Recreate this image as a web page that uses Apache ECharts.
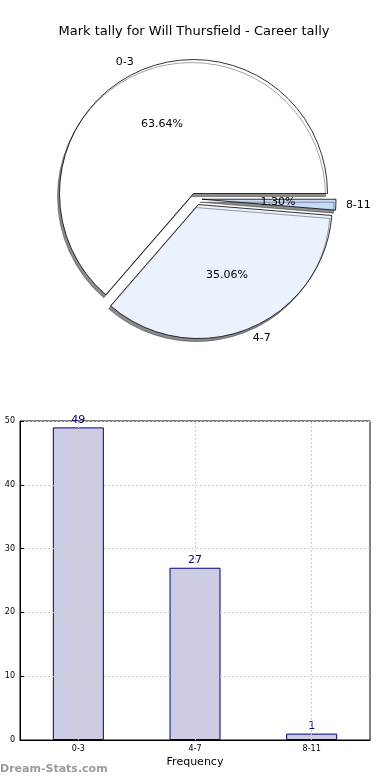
<!DOCTYPE html>
<html><head><meta charset="utf-8">
<script src="https://cdn.jsdelivr.net/npm/echarts@6/dist/echarts.min.js"></script>
<style>html,body{margin:0;padding:0;background:#fff}#c{width:390px;height:780px}</style>
</head><body><div id="c"></div>
<script>
const titleText = 'Mark tally for Will Thursfield - Career tally';
const categories = ['0-3', '4-7', '8-11'];
const tallies = [49, 27, 1];
const sliceColors = ['#ffffff', '#ebf1fd', '#c6d9f9'];
const yTicks = [0, 10, 20, 30, 40, 50];
const xName = 'Frequency';
const watermark = 'Dream-Stats.com';

const F = 'DejaVu Sans, sans-serif';
const R = 134;
const C = [196, 199];
const total = tallies.reduce((a, b) => a + b, 0);

const pieData = categories.map((c, i) => ({
  name: c, value: tallies[i], selected: true,
  itemStyle: { color: sliceColors[i] }
}));

const chart = echarts.init(document.getElementById('c'), null, { renderer: 'canvas' });
chart.setOption({
  animation: false,
  backgroundColor: '#fff',
  title: {
    text: titleText, left: 189, top: 20, textAlign: 'center',
    textStyle: { fontFamily: F, fontSize: 13, fontWeight: 'normal', color: '#000' }
  },
  graphic: [{
    type: 'text', left: 0, top: 764,
    style: { text: watermark, fill: '#9a9a9a', font: 'bold 11px ' + F }
  }],
  grid: { left: 20, right: 20, top: 421, bottom: 40, show: true, borderColor: '#000', borderWidth: 1, backgroundColor: 'transparent' },
  xAxis: {
    type: 'category', data: categories, z: 3,
    name: xName, nameLocation: 'middle', nameGap: 17,
    nameTextStyle: { fontFamily: F, fontSize: 11, color: '#000' },
    axisLine: { lineStyle: { color: '#000', width: 1 } },
    axisTick: { show: false },
    axisLabel: { fontFamily: F, fontSize: 8, color: '#000', margin: 5 },
    splitLine: { show: false }
  },
  yAxis: {
    type: 'value', min: yTicks[0], max: yTicks[yTicks.length - 1], interval: yTicks[1] - yTicks[0], z: 3,
    axisLine: { show: true, lineStyle: { color: '#000', width: 1 } },
    axisTick: { show: true, inside: true, length: 4, lineStyle: { color: '#000' } },
    axisLabel: { fontFamily: F, fontSize: 8, color: '#000', margin: 5 },
    splitLine: { show: true, lineStyle: { color: '#cccccc', type: [2, 2], width: 1 } }
  },
  series: [
    {
      type: 'pie', center: C, radius: R, clockwise: false, startAngle: 0,
      selectedMode: 'multiple', selectedOffset: 6, avoidLabelOverlap: false,
      data: pieData,
      itemStyle: { borderColor: '#000', borderWidth: 0.8, shadowColor: 'rgba(0,0,0,0.45)', shadowOffsetX: -2, shadowOffsetY: 3, shadowBlur: 0 },
      label: { show: true, position: 'outside', fontFamily: F, fontSize: 11, color: '#000', distanceToLabelLine: 0 },
      labelLine: { show: false, length: 10, length2: 0 },
      emphasis: { disabled: true }, silent: true
    },
    {
      type: 'pie', center: C, radius: [R * 0.47, R * 0.62], clockwise: false, startAngle: 0,
      selectedMode: 'multiple', selectedOffset: 6, avoidLabelOverlap: false,
      data: categories.map((c, i) => ({ name: c, value: tallies[i], selected: true })),
      itemStyle: { color: 'rgba(0,0,0,0)', borderWidth: 0 },
      label: { show: true, position: 'inside', fontFamily: F, fontSize: 11, color: '#000',
        formatter: p => (p.value / total * 100).toFixed(2) + '%' },
      labelLine: { show: false },
      emphasis: { disabled: true }, silent: true, z: 3
    },
    {
      type: 'bar', data: tallies, barWidth: 51,
      itemStyle: { color: '#ccccе3'.replace('е','e'), borderColor: '#000080', borderWidth: 1 },
      label: { show: true, position: 'top', distance: 2, fontFamily: F, fontSize: 11, color: '#000080' },
      markLine: {
        silent: true, symbol: 'none', label: { show: false },
        lineStyle: { color: '#cccccc', type: [2, 2], width: 1 },
        data: categories.map(c => ({ xAxis: c }))
      },
      emphasis: { disabled: true }, silent: true
    }
  ]
});
</script></body></html>
